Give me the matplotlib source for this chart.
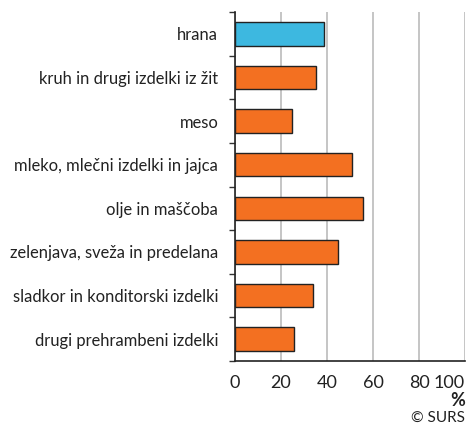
import matplotlib
matplotlib.use("Agg")
import matplotlib.pyplot as plt
import numpy as np

categories = ["hrana", "kruh in drugi izdelki iz žit", "meso",
              "mleko, mlečni izdelki in jajca", "olje in maščoba",
              "zelenjava, sveža in predelana", "sladkor in konditorski izdelki",
              "drugi prehrambeni izdelki"]
values = [38.9, 35.3, 24.7, 51.0, 55.5, 44.7, 34.1, 25.6]
xticks = [0, 20, 40, 60, 80, 100]

plt.rcParams['font.family'] = ['Lato', 'DejaVu Sans']

fig = plt.figure(figsize=(4.68, 4.24), dpi=100)
ax = fig.add_axes([235/468, 1-361/424, 230/468, 349/424])

n = len(categories)
y = np.arange(n)
colors = ["#3DB8E0"] + ["#F37021"] * (n - 1)
ax.barh(y, values, height=0.54, color=colors, edgecolor="#222222", linewidth=1.0, zorder=3)
ax.set_ylim(n - 0.5, -0.5)
ax.set_xlim(0, 100)

ax.set_yticks(y)
ax.set_yticklabels(categories, fontsize=11.9, color="#222222")
ax.tick_params(axis='y', which='major', length=0, pad=12)
ax.set_yticks(np.arange(n + 1) - 0.5, minor=True)
ax.tick_params(axis='y', which='minor', length=4, width=1, color="#333333")

ax.set_xticks(xticks)
ax.set_xticklabels([str(t) for t in xticks], fontsize=13, color="#222222")
ax.tick_params(axis='x', length=0, pad=10)
lbls = ax.get_xticklabels()
lbls[-1].set_horizontalalignment("right")
ax.grid(axis='x', color="#BBBBBB", linewidth=1.2, zorder=0)

for s in ["top", "right"]:
    ax.spines[s].set_visible(False)
for s in ["left", "bottom"]:
    ax.spines[s].set_color("#222222")
    ax.spines[s].set_linewidth(1.2)

fig.text(465/468, 1-400/424, "%", ha="right", va="center", fontsize=13, fontweight="bold", color="#222222")
fig.text(465/468, 1-418/424, "© SURS", ha="right", va="center", fontsize=11, color="#222222")

fig.savefig("out.png", dpi=100)
